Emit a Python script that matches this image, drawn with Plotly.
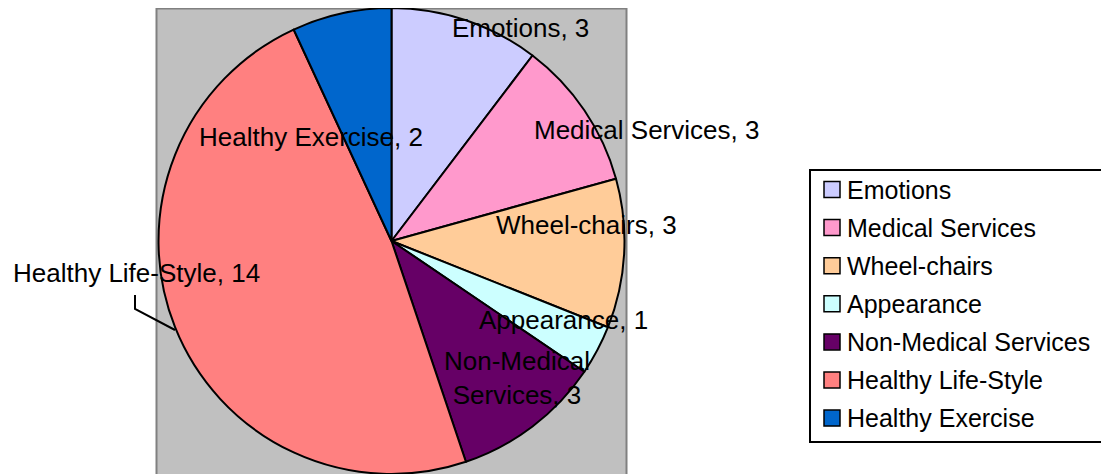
import plotly.graph_objects as go

categories = ["Emotions", "Medical Services", "Wheel-chairs", "Appearance",
              "Non-Medical Services", "Healthy Life-Style", "Healthy Exercise"]
values = [3, 3, 3, 1, 3, 14, 2]
colors = ["#CCCCFF", "#FF99CC", "#FFCC99", "#CCFFFF", "#660066", "#FF8080", "#0066CC"]

W, H = 1109, 474
FONT = "Liberation Sans, Arial, sans-serif"
OFF = 8  # page body margin offset

def px(x):
    return (x - OFF) / W

def py(y):
    return 1 - (y - OFF) / H

cx, cy, r = 391.5, 241, 233

fig = go.Figure()
fig.add_trace(go.Pie(
    labels=categories, values=values, sort=False, direction="clockwise",
    rotation=0,
    marker=dict(colors=colors, line=dict(color="black", width=2)),
    textinfo="none", hoverinfo="label+value", showlegend=False,
    domain=dict(x=[px(cx - r), px(cx + r)], y=[py(cy + r), py(cy - r)]),
))

shapes = []
# gray plot area
shapes.append(dict(type="rect", xref="paper", yref="paper", layer="below",
                   x0=px(156.5), x1=px(626.5), y0=py(490), y1=py(8.5),
                   fillcolor="#C0C0C0", line=dict(color="#808080", width=2)))

# data labels (text positions in pixels)
label_pos = [(520, 28), (646, 130), (586, 225), (563, 320), (517, 378), (136, 273), (311, 137)]
annotations = []
for name, v, (lx, ly) in zip(categories, values, label_pos):
    text = f"{name}, {v}"
    if name == "Non-Medical Services":
        text = f"Non-Medical<br>Services, {v}"
    annotations.append(dict(x=px(lx), y=py(ly), xref="paper", yref="paper",
                            text=text, showarrow=False, xanchor="center", yanchor="middle",
                            font=dict(family=FONT, size=26, color="black")))

# leader line for Healthy Life-Style
shapes.append(dict(type="path", xref="paper", yref="paper",
                   path=f"M {px(135)},{py(295)} L {px(135)},{py(309)} L {px(175)},{py(330)}",
                   line=dict(color="black", width=2)))

# manual legend
shapes.append(dict(type="rect", xref="paper", yref="paper",
                   x0=px(810), x1=px(1107), y0=py(442), y1=py(170),
                   fillcolor="white", line=dict(color="black", width=2)))
row_y0, row_gap = 189.5, 38.1
for i, (name, c) in enumerate(zip(categories, colors)):
    yy = row_y0 + i * row_gap
    shapes.append(dict(type="rect", xref="paper", yref="paper",
                       x0=px(824), x1=px(840), y0=py(yy + 8), y1=py(yy - 8),
                       fillcolor=c, line=dict(color="black", width=1.5)))
    annotations.append(dict(x=px(845), y=py(yy), xref="paper", yref="paper",
                            text=name, showarrow=False, xanchor="left", yanchor="middle",
                            font=dict(family=FONT, size=25, color="black")))

fig.update_layout(
    width=W, height=H, margin=dict(l=0, r=0, t=0, b=0),
    paper_bgcolor="white", plot_bgcolor="white",
    shapes=shapes, annotations=annotations, showlegend=False,
)

fig.write_html("out.html")
